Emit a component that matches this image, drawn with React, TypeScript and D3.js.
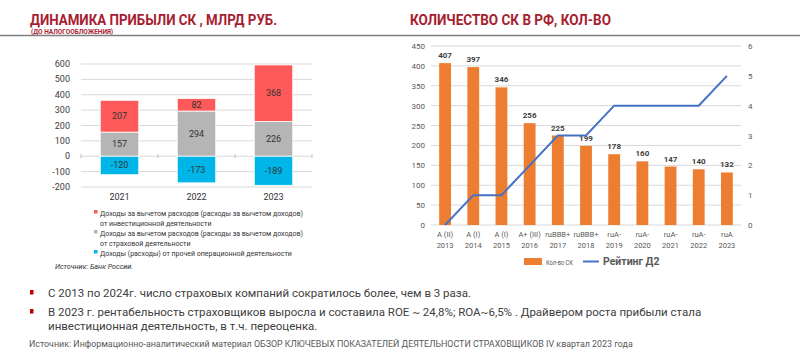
import React from "react";
import * as d3 from "d3";

// left chart: profit, bln rub
const years = ["2021", "2022", "2023"];
const investIncome = [207, 82, 368];
const insuranceIncome = [157, 294, 226];
const otherIncome = [-120, -173, -189];
const leftTicks = [600, 500, 400, 300, 200, 100, 0, -100, -200];
const legendLines = [
  { text: "Доходы за вычетом расходов (расходы за вычетом доходов)", color: "#ff5a5a" },
  { text: "от инвестиционной деятельности", color: null },
  { text: "Доходы за вычетом расходов (расходы за вычетом доходов)", color: "#b5b5b5" },
  { text: "от страховой деятельности", color: null },
  { text: "Доходы (расходы) от прочей операционной деятельности", color: "#00b6e8" },
];

// right chart: number of companies + rating
const ratings = ["A (II)", "A (I)", "A (I)", "A+ (III)", "ruBBB+", "ruBBB+", "ruA-", "ruA-", "ruA-", "ruA-", "ruA"];
const ratingYears = ["2013", "2014", "2015", "2016", "2017", "2018", "2019", "2020", "2021", "2022", "2023"];
const companies = [407, 397, 346, 256, 225, 199, 178, 160, 147, 140, 132];
const ratingD2 = [0, 1, 1, 2, 3, 3, 4, 4, 4, 4, 5];
const countTicks = [0, 50, 100, 150, 200, 250, 300, 350, 400, 450];
const ratingTicks = [0, 1, 2, 3, 4, 5, 6];

const bullets = [
  ["С 2013 по 2024г. число страховых компаний сократилось более, чем в 3 раза."],
  [
    "В 2023 г. рентабельность страховщиков выросла и составила ROE ~ 24,8%; ROA~6,5% . Драйвером роста прибыли стала",
    "инвестиционная деятельность, в т.ч. переоценка.",
  ],
];
const footnote =
  "Источник: Информационно-аналитический материал ОБЗОР КЛЮЧЕВЫХ ПОКАЗАТЕЛЕЙ ДЕЯТЕЛЬНОСТИ СТРАХОВЩИКОВ IV квартал 2023 года";

const titleColor = "#a71d31";

const LeftChart = () => {
  const x = d3.scaleBand().domain(years).range([81, 312]).paddingInner(0.5).paddingOuter(0.25);
  const y = d3.scaleLinear().domain([-200, 600]).range([187, 64]);
  const bw = x.bandwidth();

  return (
    <g fontFamily="Roboto, sans-serif">
      {leftTicks.map((t) => (
        <g key={t}>
          <line x1={81} x2={312} y1={y(t)} y2={y(t)} stroke="#d9d9d9" />
          <text x={70} y={y(t) + 3} textAnchor="end" fontSize={9} fill="#404040">
            {t}
          </text>
        </g>
      ))}
      {[0, 1, 2, 3].map((i) => (
        <line key={i} x1={81 + x.step() * i} x2={81 + x.step() * i} y1={y(0) - 2} y2={y(0) + 2} stroke="#bfbfbf" />
      ))}
      {years.map((yr, i) => {
        const x0 = x(yr)!;
        const cx = x0 + bw / 2;
        const ins = insuranceIncome[i];
        const inv = investIncome[i];
        const oth = otherIncome[i];
        return (
          <g key={yr}>
            <rect x={x0} y={y(ins)} width={bw} height={y(0) - y(ins)} fill="#b5b5b5" stroke="#fff" strokeWidth={0.8} />
            <rect x={x0} y={y(ins + inv)} width={bw} height={y(ins) - y(ins + inv)} fill="#ff5a5a" stroke="#fff" strokeWidth={0.8} />
            <rect x={x0} y={y(0)} width={bw} height={y(oth) - y(0)} fill="#00b6e8" stroke="#fff" strokeWidth={0.8} />
            <text x={cx} y={(y(0) + y(ins)) / 2 + 3} textAnchor="middle" fontSize={9} fill="#333">
              {ins}
            </text>
            <text x={cx} y={(y(ins) + y(ins + inv)) / 2 + 3} textAnchor="middle" fontSize={9} fill="#333">
              {inv}
            </text>
            <text x={cx} y={(y(0) + y(oth)) / 2 + 3} textAnchor="middle" fontSize={9} fill="#333">
              {oth}
            </text>
            <text x={cx} y={200} textAnchor="middle" fontSize={9} fill="#333">
              {yr}
            </text>
          </g>
        );
      })}
      {legendLines.map((l, i) => (
        <g key={i}>
          {l.color && <rect x={94} y={210 + i * 10} width={3.5} height={3.5} fill={l.color} />}
          <text x={100} y={215.5 + i * 10} fontSize={7} fill="#333">
            {l.text}
          </text>
        </g>
      ))}
      <text x={55} y={269} fontSize={7.2} fontStyle="italic" fill="#333">
        Источник: Банк России.
      </text>
    </g>
  );
};

const RightChart = () => {
  const x = d3.scaleBand().domain(ratingYears).range([431, 741]).paddingInner(0.58).paddingOuter(0.29);
  const y = d3.scaleLinear().domain([0, 450]).range([225, 46]);
  const y2 = d3.scaleLinear().domain([0, 6]).range([225, 46]);
  const bw = x.bandwidth();
  const line = d3
    .line<number>()
    .x((_, i) => x(ratingYears[i])! + bw / 2)
    .y((d) => y2(d));

  return (
    <g fontFamily="Roboto, sans-serif">
      {countTicks.map((t) => (
        <g key={t}>
          <line x1={431} x2={741} y1={y(t)} y2={y(t)} stroke="#d9d9d9" />
          <text x={425} y={y(t) + 3} textAnchor="end" fontSize={8} fill="#595959">
            {t}
          </text>
        </g>
      ))}
      {ratingTicks.map((t) => (
        <text key={t} x={748} y={y2(t) + 3} fontSize={8} fill="#595959">
          {t}
        </text>
      ))}
      {companies.map((v, i) => {
        const x0 = x(ratingYears[i])!;
        return (
          <g key={i}>
            <rect x={x0} y={y(v)} width={bw} height={y(0) - y(v)} fill="#ed7d31" />
            <text x={x0 + bw / 2} y={y(v) - 5} textAnchor="middle" fontSize={8} fontWeight="bold" fill="#404040">
              {v}
            </text>
            <text x={x0 + bw / 2} y={237} textAnchor="middle" fontSize={7.5} fill="#595959">
              {ratings[i]}
            </text>
            <text x={x0 + bw / 2} y={248} textAnchor="middle" fontSize={7.5} fill="#595959">
              {ratingYears[i]}
            </text>
          </g>
        );
      })}
      <path d={line(ratingD2) ?? ""} fill="none" stroke="#4472c4" strokeWidth={2} />
      <rect x={524} y={258} width={18} height={7} fill="#ed7d31" />
      <text x={546} y={264.5} fontSize={7.5} fill="#595959" textLength={27} lengthAdjust="spacingAndGlyphs">
        Кол-во СК
      </text>
      <line x1={583} x2={599} y1={261.5} y2={261.5} stroke="#4472c4" strokeWidth={2} />
      <text x={603} y={265} fontSize={10.5} fontWeight="bold" fill="#595959">
        Рейтинг Д2
      </text>
    </g>
  );
};

export default function App() {
  return (
    <svg
      width={800}
      height={360}
      style={{ position: "absolute", left: 0, top: 0, background: "#fff" }}
      fontFamily="Roboto, sans-serif"
    >
      <rect width={800} height={360} fill="#fff" />
      <text x={30} y={25} fontSize={15} fontWeight="bold" fill={titleColor} textLength={247} lengthAdjust="spacingAndGlyphs">
        ДИНАМИКА ПРИБЫЛИ СК , МЛРД РУБ.
      </text>
      <text x={31} y={33.5} fontSize={6.5} fontWeight="bold" fill={titleColor}>
        (ДО НАЛОГООБЛОЖЕНИЯ)
      </text>
      <text x={410} y={25} fontSize={15} fontWeight="bold" fill={titleColor} textLength={201} lengthAdjust="spacingAndGlyphs">
        КОЛИЧЕСТВО СК В РФ, КОЛ-ВО
      </text>
      <line x1={0} x2={800} y1={35.5} y2={35.5} stroke="#7f7f7f" strokeWidth={1.5} />
      <LeftChart />
      <RightChart />
      {bullets.map((lines, i) => (
        <g key={i}>
          <rect x={30} y={290 + i * 19} width={3.5} height={4.5} fill="#c00000" />
          {lines.map((t, j) => (
            <text key={j} x={48} y={297 + i * 19 + j * 14} fontSize={11.5} fill="#404040">
              {t}
            </text>
          ))}
        </g>
      ))}
      <text x={29} y={347} fontSize={8.9} fill="#595959">
        {footnote}
      </text>
    </svg>
  );
}
